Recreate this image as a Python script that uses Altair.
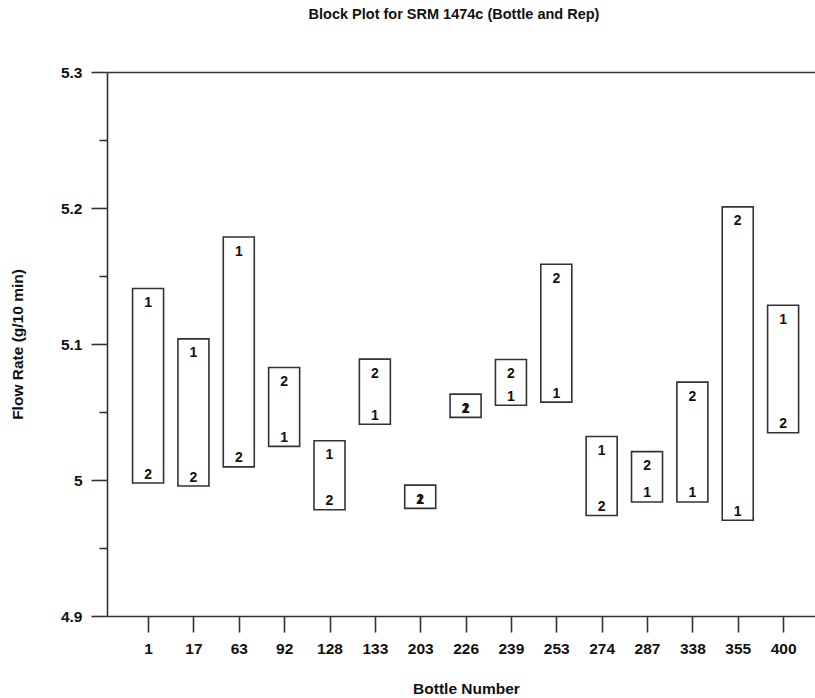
import altair as alt
import pandas as pd

bottles = ["1", "17", "63", "92", "128", "133", "203", "226", "239", "253",
           "274", "287", "338", "355", "400"]
rep1 = [5.1323, 5.0953, 5.1702, 5.0332, 5.0204, 5.0494, 4.9878, 5.0547, 5.0634,
        5.0657, 5.0235, 4.9923, 4.9923, 4.9789, 5.1200]
rep2 = [5.0062, 5.0040, 5.0181, 5.0743, 4.9866, 5.0804, 4.9876, 5.0545, 5.0801,
        5.1502, 4.9823, 5.0124, 5.0635, 5.1924, 5.0432]
y_ticks = [4.9, 4.95, 5.0, 5.05, 5.1, 5.15, 5.2, 5.25, 5.3]

boxes = pd.DataFrame({
    "idx": list(range(len(bottles))),
    "bottle": bottles,
    "hi": [max(a, b) for a, b in zip(rep1, rep2)],
    "lo": [min(a, b) for a, b in zip(rep1, rep2)],
})
pts = pd.DataFrame({
    "idx": list(range(len(bottles))) * 2,
    "value": rep1 + rep2,
    "rep": ["1"] * len(rep1) + ["2"] * len(rep2),
    "order": list(range(len(rep1))) + list(range(len(rep1), 2 * len(rep1))),
})

FONT = "Liberation Sans"
LINE = "#333333"
TXT = "#111111"

label_expr = "[" + ",".join("'%s'" % b for b in bottles) + "][datum.value]"
is_major = "abs(datum.value*10 - round(datum.value*10)) < 0.001"

xscale = alt.Scale(domain=[-0.795, 14.593], nice=False, zero=False)
yscale = alt.Scale(domain=[4.9, 5.3], nice=False, zero=False)

yaxis = alt.Axis(
    values=y_ticks,
    format="~g",
    labelExpr=is_major + " ? datum.label : ''",
    tickSize={"condition": {"test": is_major, "value": 16}, "value": 8},
    labelPadding=9,
    labelFontSize=15.5,
    labelFontWeight="bold",
    labelFont=FONT,
    labelColor=TXT,
    domainColor=LINE,
    domainWidth=1.6,
    tickColor=LINE,
    tickWidth=1.6,
    grid=False,
    title="Flow Rate (g/10 min)",
    titleFont=FONT,
    titleFontSize=15.5,
    titleFontWeight="bold",
    titleColor=TXT,
    titleAngle=-90,
    titleBaseline="middle",
    titleAlign="center",
    titleX=-90,
    titleY=272,
)

xaxis_bottom = alt.Axis(
    values=list(range(len(bottles))),
    labelExpr=label_expr,
    tickSize=16,
    labelPadding=9,
    labelFontSize=15.5,
    labelFontWeight="bold",
    labelFont=FONT,
    labelColor=TXT,
    domainColor=LINE,
    domainWidth=1.6,
    tickColor=LINE,
    tickWidth=1.6,
    grid=False,
    title="Bottle Number",
    titleFont=FONT,
    titleFontSize=15.5,
    titleFontWeight="bold",
    titleColor=TXT,
    titleBaseline="middle",
    titleAlign="center",
    titleX=359,
    titleY=72,
)

xaxis_top = alt.Axis(
    orient="top", labels=False, ticks=False, grid=False, title=None,
    domainColor=LINE, domainWidth=1.6,
)

box_layer = alt.Chart(boxes).mark_bar(
    size=31, fill="white", stroke=LINE, strokeWidth=1.6,
    yOffset=-11.5, y2Offset=11.5,
).encode(
    x=alt.X("idx:Q", scale=xscale, axis=xaxis_bottom),
    y=alt.Y("hi:Q", scale=yscale, axis=yaxis),
    y2="lo:Q",
)

text_layer = alt.Chart(pts).mark_text(
    baseline="middle", align="center", dy=3, fontSize=14, fontWeight="bold",
    font=FONT, color=TXT,
).encode(
    x=alt.X("idx:Q", scale=xscale, axis=xaxis_top),
    y=alt.Y("value:Q", scale=yscale, axis=yaxis),
    text="rep:N",
    order="order:Q",
)

chart = alt.layer(box_layer, text_layer).resolve_axis(x="independent").properties(
    width=708,
    height=544,
    autosize=alt.AutoSizeParams(type="none"),
    padding={"left": 107, "top": 72, "right": 0, "bottom": 82},
    title=alt.TitleParams(
        "Block Plot for SRM 1474c (Bottle and Rep)",
        font=FONT, fontSize=14.5, fontWeight="bold", color=TXT,
        anchor="middle", baseline="alphabetic", offset=46, dx=-7, dy=14,
    ),
).configure_view(stroke=None).configure(background="white")

chart.save("out.html", embed_options={"renderer": "svg", "actions": False})
